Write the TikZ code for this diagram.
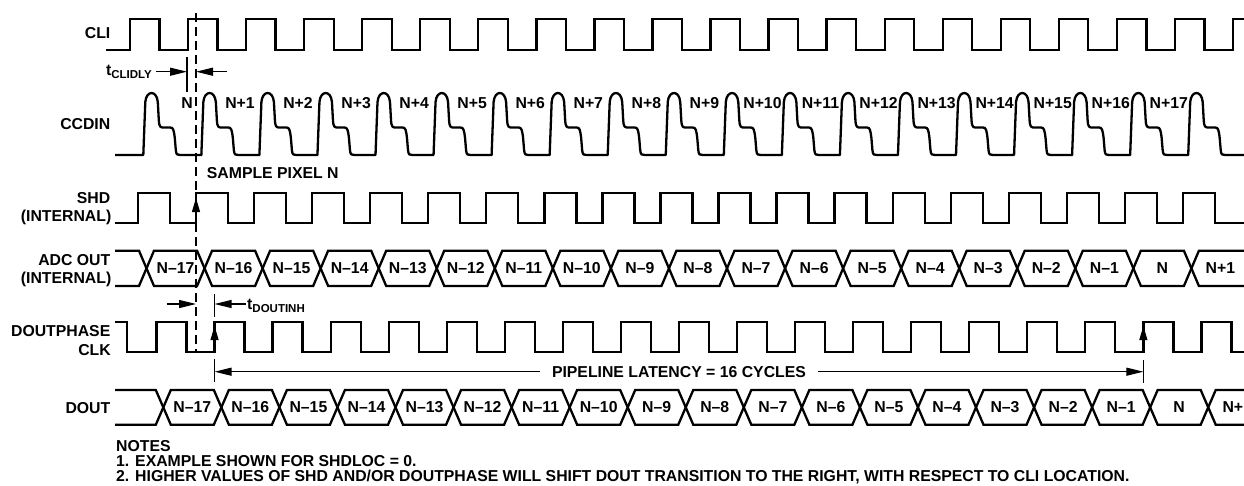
\documentclass[tikz,border=0pt]{standalone}
\usepackage{fontspec}
\setmainfont{Liberation Sans}
\usetikzlibrary{arrows.meta}
\def\per{58.05}
\def\hw{7.5}
\newcommand{\subtxt}[1]{\raisebox{-3.3pt}{\fontsize{11.5}{12}\selectfont\bfseries #1}}
% bus: #1 first crossing x, #2 top y, #3 bottom y
\newcommand{\drawbus}[3]{%
  \foreach \ya/\yb in {#2/#3,#3/#2}{%
    \draw[sig] (115,\ya) foreach \j in {0,...,8}{
      -- ({#1+\per*2*\j-\hw},\ya) -- ({#1+\per*2*\j+\hw},\yb)
      -- ({#1+\per*(2*\j+1)-\hw},\yb) -- ({#1+\per*(2*\j+1)+\hw},\ya)
    } -- ({#1+\per*18-\hw},\ya) -- ({#1+\per*18+\hw},\yb) -- (1244,\yb);
  }%
}
\begin{document}
\begin{tikzpicture}[x=1pt,y=-1pt,
  sig/.style={line width=2.3pt,line join=miter},
  thinln/.style={line width=1.2pt},
  tipend/.style={-{Triangle[length=17pt,width=8pt]}},
  edgetip/.style={line width=1pt,-{Triangle[length=14pt,width=8pt]}},
  lbl/.style={font=\fontsize{15.8}{18}\selectfont\bfseries,inner sep=0pt},
  dashln/.style={line width=2pt,dash pattern=on 9pt off 5pt}]
\useasboundingbox (0,0) rectangle (1244,485);

% ---------- signal names ----------
\node[lbl,anchor=base east] (lcli) at (110.5,38.3) {CLI};
\node[lbl,anchor=base east] (lccd) at (110.5,129.5) {CCDIN};
\node[lbl,anchor=base east] (lshd) at (110.5,203.5) {SHD};
\node[lbl,anchor=base east] (lshdi) at (111.5,221.5) {(INTERNAL)};
\node[lbl,anchor=base east] (ladc) at (110.5,265) {ADC OUT};
\node[lbl,anchor=base east] (ladci) at (111.5,283) {(INTERNAL)};
\node[lbl,anchor=base east] (ldp) at (110.5,336.7) {DOUTPHASE};
\node[lbl,anchor=base east] (ldpc) at (111,355) {CLK};
\node[lbl,anchor=base east] (ldout) at (110.5,413) {DOUT};

% ---------- CLI ----------
\draw[sig] (106,50) foreach \k in {0,...,18}{
  -- ({130+\per*\k},50) -- ({130+\per*\k},19) -- ({159.5+\per*\k},19) -- ({159.5+\per*\k},50)
} -- ({130+\per*19},50) -- ({130+\per*19},19) -- (1244,19);

% ---------- CCDIN ----------
\draw[sig,line join=round] (115,155) foreach \k in {0,...,18}{
  -- ({143.3+\per*\k},155) -- ({145.3+\per*\k},102)
  .. controls ({146.3+\per*\k},90) and ({156.8+\per*\k},90) .. ({157.8+\per*\k},102)
  -- ({158.8+\per*\k},120)
  .. controls ({159.3+\per*\k},127.5) and ({160.3+\per*\k},127.5) .. ({164.3+\per*\k},127.5)
  -- ({170.3+\per*\k},127.5)
  .. controls ({173.3+\per*\k},127.5) and ({173.8+\per*\k},130) .. ({174.8+\per*\k},138)
  -- ({175.8+\per*\k},150)
  .. controls ({176.3+\per*\k},155) and ({177.3+\per*\k},155) .. ({180.3+\per*\k},155)
} -- (1244,155);
\node[lbl,anchor=base] (cn0) at (187,108.5) {N};
\foreach \k in {1,...,17}{
  \node[lbl,anchor=base] (cn\k) at ({240+\per*(\k-1)},108.5) {N+\k};
}

% ---------- SHD ----------
\draw[sig] (115,223.3) foreach \k in {0,...,18}{
  -- ({138+\per*\k},223.3) -- ({138+\per*\k},193.3) -- ({170+\per*\k},193.3) -- ({170+\per*\k},223.3)
} -- (1244,223.3);

% ---------- ADC OUT ----------
\drawbus{146.5}{250.7}{286}
\foreach \t [count=\i from 0] in {N–17,N–16,N–15,N–14,N–13,N–12,N–11,N–10,N–9,N–8,N–7,N–6,N–5,N–4,N–3,N–2,N–1,N,N+1}{
  \node[lbl] (adc\i) at ({146.5+\per*(\i+0.5)},268.4) {\t};
}

% ---------- DOUTPHASE CLK ----------
\draw[sig] (115,321.7) -- (127,321.7) -- (127,351.7) foreach \k in {0,...,18}{
  -- ({156.5+\per*\k},351.7) -- ({156.5+\per*\k},321.7) -- ({186.5+\per*\k},321.7) -- ({186.5+\per*\k},351.7)
} -- (1244,351.7);

% ---------- DOUT ----------
\drawbus{163.3}{390}{424.7}
\foreach \t [count=\i from 0] in {N–17,N–16,N–15,N–14,N–13,N–12,N–11,N–10,N–9,N–8,N–7,N–6,N–5,N–4,N–3,N–2,N–1,N,N+1}{
  \node[lbl] (dout\i) at ({163.3+\per*(\i+0.5)},407.4) {\t};
}

% ---------- reference instants ----------
\coordinate (dtop) at (196,13);
\coordinate (dbot) at (196,351.7);
\draw[dashln] (dtop) -- (dbot);

\coordinate (shdA) at (196,213);
\coordinate (shdB) at (196,198);
\draw[edgetip] (shdA) -- (shdB);
\coordinate (dp1A) at ({156.5+\per},341);
\coordinate (dp1B) at ({156.5+\per},326);
\draw[edgetip] (dp1A) -- (dp1B);
\coordinate (dp17A) at ({156.5+\per*17},341);
\coordinate (dp17B) at ({156.5+\per*17},326);
\draw[edgetip] (dp17A) -- (dp17B);

% t_CLIDLY
\coordinate (ctk1) at (187,57);
\coordinate (ctk2) at (187,91.7);
\draw[thinln] (ctk1) -- (ctk2);
\node[lbl,anchor=base east] (tcli) at (152,75) {t\subtxt{CLIDLY}};
\coordinate (ca1) at (156,71.7);
\coordinate (ca2) at (187,71.7);
\coordinate (ca3) at (227,71.7);
\coordinate (ca4) at (196,71.7);
\draw[thinln,tipend] (ca1) -- (ca2);
\draw[thinln,tipend] (ca3) -- (ca4);

\node[lbl,anchor=base west] (spn) at (206.7,178.5) {SAMPLE PIXEL N};

% t_DOUTINH
\coordinate (dtk1) at ({156.5+\per},294);
\coordinate (dtk2) at ({156.5+\per},317);
\draw[thinln] (dtk1) -- (dtk2);
\coordinate (da1) at (166.7,304);
\coordinate (da2) at (196,304);
\draw[thinln,tipend] (da1) -- (da2);
\node[lbl,anchor=base west] (tdout) at (247,309.3) {t\subtxt{DOUTINH}};
\coordinate (da3) at (245.5,304);
\coordinate (da4) at ({156.5+\per},304);
\draw[thinln,tipend] (da3) -- (da4);

% pipeline latency
\coordinate (lt1) at ({156.5+\per},359);
\coordinate (lt2) at ({156.5+\per},382);
\coordinate (rt1) at ({156.5+\per*17},360);
\coordinate (rt2) at ({156.5+\per*17},383);
\draw[thinln] (lt1) -- (lt2);
\draw[thinln] (rt1) -- (rt2);
\coordinate (lmid) at ({156.5+\per},371.7);
\coordinate (rmid) at ({156.5+\per*17},371.7);
\node[lbl,inner xsep=12pt] (lat) at ({156.5+\per*9},371.7) {PIPELINE LATENCY = 16 CYCLES};
\draw[thinln,tipend] (lat.west) -- (lmid);
\draw[thinln,tipend] (lat.east) -- (rmid);

% notes
\node[lbl,anchor=base west] (n0) at (116,451.4) {NOTES};
\node[lbl,anchor=base west] (n1) at (116,466.6) {1. EXAMPLE SHOWN FOR SHDLOC = 0.};
\node[lbl,anchor=base west] (n2) at (116,481.6) {2. HIGHER VALUES OF SHD AND/OR DOUTPHASE WILL SHIFT DOUT TRANSITION TO THE RIGHT, WITH RESPECT TO CLI LOCATION.};
\end{tikzpicture}
\end{document}
